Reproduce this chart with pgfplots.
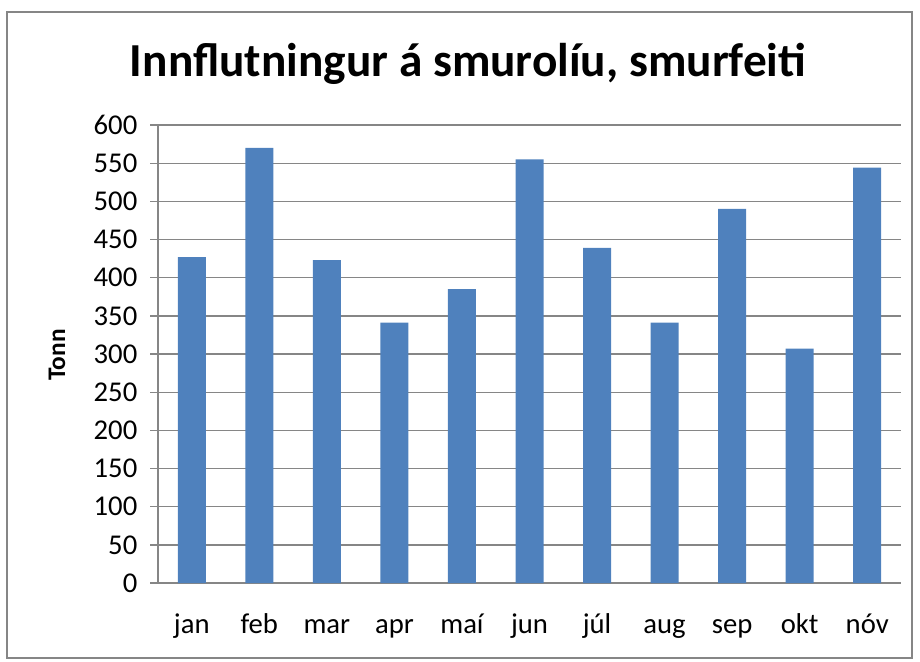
\documentclass[border=0pt]{standalone}
\usepackage{fontspec}
\setmainfont{Carlito}
\usepackage{pgfplots}
\pgfplotsset{compat=1.18}
\definecolor{barblue}{HTML}{4F81BD}
\definecolor{gr}{HTML}{868686}
\begin{document}
\begin{tikzpicture}[x=0.75pt,y=0.75pt]
\path[use as bounding box] (0,0) rectangle (920,661);
\draw[gr, line width=1.4pt] (7,3) rectangle (912,649);
\node[font=\bfseries\fontsize{35.5}{40}\selectfont, anchor=base] at (468,584) {Innflutningur á smurolíu, smurfeiti};
\node[font=\bfseries\fontsize{19}{22}\selectfont, rotate=90] at (57,306) {Tonn};
\begin{axis}[
  at={(118.5pt,58.5pt)}, anchor=south west, scale only axis,
  width=557.25pt, height=343.5pt,
  xmin=-0.5, xmax=10.5, ymin=0, ymax=600,
  ytick={0,50,...,600},
  xtick={0,...,10},
  xticklabels={jan,feb,mar,apr,maí,jun,júl,aug,sep,okt,nóv},
  axis lines=left, axis line style={gr,-, line width=1pt},
  ymajorgrids, grid style={gr, line width=1pt},
  tick align=outside,
  major x tick style={draw=none},
  major y tick style={gr, line width=1pt},
  major tick length=6pt,
  extra x ticks={-0.5,0.5,...,10.5},
  extra x tick labels={},
  extra x tick style={major x tick style={gr, line width=1pt}, major tick length=6.75pt},
  tick label style={font=\fontsize{21.5}{24}\selectfont},
  /pgf/number format/assume math mode=true,
  xticklabel style={anchor=base, yshift=-32pt},
  yticklabel style={xshift=-6pt},
  ybar, bar width=21pt,
]
\addplot[fill=barblue, draw=none] coordinates {
(0,427) (1,570) (2,423) (3,341) (4,385) (5,555) (6,439) (7,341) (8,490) (9,307) (10,544)};
\end{axis}
\end{tikzpicture}
\end{document}
